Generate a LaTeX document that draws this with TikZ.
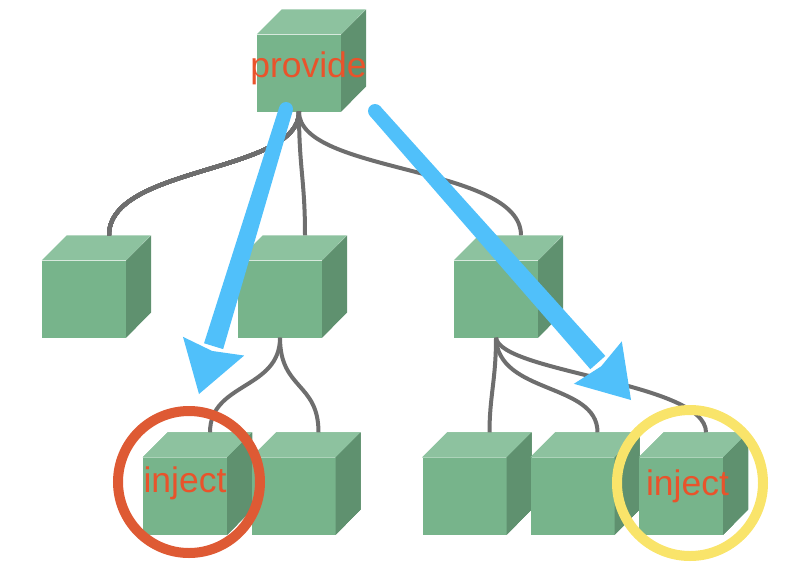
\documentclass[tikz,border=0pt]{standalone}
\usepackage{fontspec}
\setmainfont{Liberation Sans}
\usetikzlibrary{arrows.meta,calc,positioning}

\definecolor{facegreen}{HTML}{77B48B}
\definecolor{topgreen}{HTML}{8DC29F}
\definecolor{sidegreen}{HTML}{5F916F}
\definecolor{wiregray}{HTML}{6E6E6E}
\definecolor{hintblue}{HTML}{50C0FA}
\definecolor{wordred}{HTML}{E9532B}
\definecolor{ringred}{HTML}{DE5A34}
\definecolor{ringyellow}{HTML}{F9E46A}

% one box: front face as a node, top and side filled behind it
\newcommand{\greencube}[2]{%
  \node[cubefront] (#1) at (#2) {};
  \fill[topgreen] (#1.north west) -- ++(25,-25) -- ++(84,0) -- (#1.north east) -- cycle;
  \fill[sidegreen] (#1.north east) -- ++(25,-25) -- ++(0,77) -- (#1.south east) -- cycle;
  \coordinate (#1t) at ($(#1.north)+(25,-25)$);
}

\begin{document}
\begin{tikzpicture}[x=1pt,y=-1pt,>=Stealth,
          cubefront/.style={fill=facegreen,minimum width=84pt,minimum height=77pt,inner sep=0pt},
          branch/.style={draw=wiregray,line width=4pt},
          ring/.style={circle,draw,line width=10pt,inner sep=0pt},
          word/.style={text=wordred,font=\fontsize{35.5}{40}\selectfont,anchor=base,inner sep=0pt}]
        \useasboundingbox (0,0) rectangle (798,574);
        % boxes
        \greencube{root}{299,73}
        \foreach \n/\x in {m1/84,m2/280,m3/496}
          \greencube{\n}{\x,299}
        \foreach \n/\x in {b1/185,b2/293.5,b3/464.5,b4/572.5,b5/681}
          \greencube{\n}{\x,496}
        % tree wires
        \draw[branch] (root.south) .. controls +(0,62) and +(0,-70) .. (m1t);
        \draw[branch] (root.south) .. controls +(0,57) and +(0,-56) .. (m2t);
        \draw[branch] (root.south) .. controls +(0,62) and +(0,-70) .. (m3t);
        \draw[branch] (m2.south) .. controls +(0,52) and +(0,-50) .. (b1t);
        \draw[branch] (m2.south) .. controls +(0,52) and +(0,-50) .. (b2t);
        \draw[branch] (m3.south) .. controls +(0,42) and +(0,-36) .. (b3t);
        \draw[branch] (m3.south) .. controls +(2,57) and +(0,-50) .. (b4t);
        \draw[branch] (m3.south) .. controls +(5,35) and +(0,-50) .. (b5t);
        % blue hints (shaft widens towards the head)
        \coordinate (s1) at (286,109);
        \coordinate (e1) at (199,394);
        \coordinate (s2) at (375,111);
        \coordinate (e2) at (631,400);
        \foreach \s/\e in {s1/e1,s2/e2} {
          \coordinate (h) at ($(\e)!50pt!(\s)$);
          \fill[hintblue] (\s) circle (7pt);
          \fill[hintblue] ($(\s)!7pt!90:(\e)$) -- ($(h)!10pt!-90:(\s)$)
            -- ($(h)!10pt!90:(\s)$) -- ($(\s)!7pt!-90:(\e)$) -- cycle;
          \fill[hintblue] (\e) -- ($(h)!32pt!90:(\s)$) -- ($(\e)!45pt!(\s)$)
            -- ($(h)!32pt!-90:(\s)$) -- cycle;
        }
        % rings
        \node[ring,draw=ringred,minimum size=142pt] (redring) at (189,482) {};
        \node[ring,draw=ringyellow,minimum size=146pt] (yellowring) at (690,483) {};
        % labels
        \node[word] (provide) at (308.5,77) {provide};
        \node[word] (injectl) at (185,492) {inject};
        \node[word] (injectr) at (687.5,495) {inject};
      \end{tikzpicture}
\end{document}
